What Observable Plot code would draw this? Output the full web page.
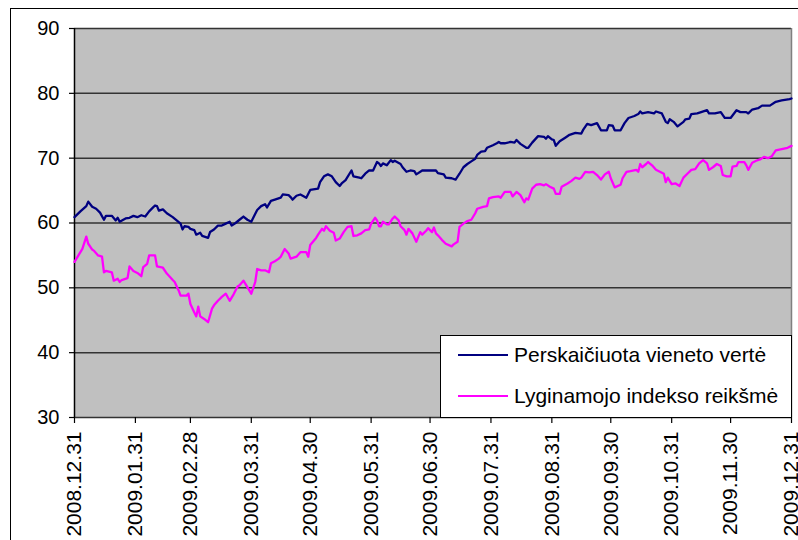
<!DOCTYPE html>
<html>
<head>
<meta charset="utf-8">
<script src="https://cdn.jsdelivr.net/npm/d3@7"></script>
<script src="https://cdn.jsdelivr.net/npm/@observablehq/plot@0.6"></script>
<style>
  html, body { margin: 0; padding: 0; background: #fff; overflow: hidden; }
  #wrap { position: relative; width: 798px; height: 540px; overflow: hidden; font-family: Arial, "Liberation Sans", sans-serif; }
  #frame { position: absolute; left: 10px; top: 8px; width: 900px; height: 700px; border: 1px solid #000; box-sizing: border-box; pointer-events: none; }
  #legend { position: absolute; left: 440px; top: 335px; width: 352px; height: 83px; background: #fff; border: 1px solid #000; box-sizing: border-box; }
  .item { position: absolute; left: 17px; display: flex; align-items: center; font-size: 21px; color: #000; white-space: nowrap; }
  .swatch { width: 50px; height: 0; border-top: 2px solid; margin-right: 6px; }
</style>
</head>
<body>
<div id="wrap">
  <div id="chart"></div>
  <div id="frame"></div>
  <div id="legend"></div>
</div>
<script>
// Series names
const seriesNames = ["Perskaičiuota vieneto vertė", "Lyginamojo indekso reikšmė"];
const seriesColors = ["#000080", "#FF00FF"];

// Axis ticks
const yTicks = [30, 40, 50, 60, 70, 80, 90];
const xTickDates = ["2008-12-31","2009-01-31","2009-02-28","2009-03-31","2009-04-30","2009-05-31","2009-06-30","2009-07-31","2009-08-31","2009-09-30","2009-10-31","2009-11-30","2009-12-31"];

// Perskaičiuota vieneto vertė
const navDates = ["2008-12-31","2009-01-03","2009-01-06","2009-01-07","2009-01-09","2009-01-11","2009-01-13","2009-01-15","2009-01-16","2009-01-19","2009-01-21","2009-01-22","2009-01-23","2009-01-26","2009-01-28","2009-01-30","2009-02-01","2009-02-03","2009-02-05","2009-02-07","2009-02-09","2009-02-10","2009-02-11","2009-02-12","2009-02-14","2009-02-16","2009-02-19","2009-02-21","2009-02-23","2009-02-24","2009-02-25","2009-02-27","2009-02-28","2009-03-02","2009-03-03","2009-03-05","2009-03-06","2009-03-09","2009-03-10","2009-03-12","2009-03-14","2009-03-16","2009-03-18","2009-03-20","2009-03-21","2009-03-23","2009-03-25","2009-03-27","2009-03-29","2009-03-31","2009-04-01","2009-04-03","2009-04-05","2009-04-07","2009-04-08","2009-04-10","2009-04-12","2009-04-15","2009-04-16","2009-04-19","2009-04-20","2009-04-21","2009-04-23","2009-04-25","2009-04-28","2009-04-30","2009-05-04","2009-05-05","2009-05-07","2009-05-09","2009-05-11","2009-05-13","2009-05-15","2009-05-16","2009-05-18","2009-05-21","2009-05-22","2009-05-25","2009-05-26","2009-05-28","2009-05-30","2009-06-01","2009-06-03","2009-06-04","2009-06-05","2009-06-06","2009-06-08","2009-06-10","2009-06-11","2009-06-12","2009-06-15","2009-06-16","2009-06-18","2009-06-20","2009-06-22","2009-06-23","2009-06-26","2009-06-29","2009-07-03","2009-07-04","2009-07-07","2009-07-08","2009-07-11","2009-07-13","2009-07-15","2009-07-17","2009-07-19","2009-07-21","2009-07-23","2009-07-24","2009-07-26","2009-07-28","2009-07-29","2009-08-01","2009-08-03","2009-08-04","2009-08-05","2009-08-07","2009-08-10","2009-08-12","2009-08-13","2009-08-15","2009-08-18","2009-08-19","2009-08-21","2009-08-24","2009-08-27","2009-08-28","2009-08-29","2009-08-31","2009-09-01","2009-09-02","2009-09-04","2009-09-07","2009-09-09","2009-09-12","2009-09-15","2009-09-16","2009-09-18","2009-09-20","2009-09-23","2009-09-25","2009-09-28","2009-09-29","2009-10-01","2009-10-02","2009-10-05","2009-10-07","2009-10-09","2009-10-12","2009-10-14","2009-10-15","2009-10-16","2009-10-19","2009-10-22","2009-10-23","2009-10-26","2009-10-28","2009-10-29","2009-10-30","2009-11-01","2009-11-03","2009-11-06","2009-11-07","2009-11-09","2009-11-10","2009-11-13","2009-11-15","2009-11-18","2009-11-19","2009-11-22","2009-11-25","2009-11-27","2009-11-30","2009-12-03","2009-12-05","2009-12-08","2009-12-09","2009-12-11","2009-12-14","2009-12-16","2009-12-20","2009-12-23","2009-12-26","2009-12-30","2009-12-31"];
const navValues = [60.9,61.8,62.6,63.3,62.5,62.2,61.6,60.5,61.1,61.1,60.4,60.8,60.2,60.7,60.8,61.1,60.9,61.2,61.0,61.8,62.4,62.7,62.6,61.9,62.1,61.5,60.9,60.4,59.9,59.0,59.5,59.4,59.1,58.9,58.2,58.5,58.0,57.7,58.6,59.0,59.6,59.6,59.9,60.2,59.6,60.0,60.5,61.0,60.5,60.2,60.8,62.0,62.6,62.9,62.4,63.4,63.6,63.9,64.4,64.3,64.0,63.6,64.2,64.4,63.9,65.1,65.3,66.3,67.2,67.5,67.2,66.3,65.7,66.1,66.6,68.1,67.2,67.0,66.9,67.6,68.1,68.1,69.4,69.2,68.8,69.2,68.9,69.7,69.4,69.6,69.1,68.6,67.9,68.1,68.0,67.5,68.1,68.1,68.1,67.7,67.5,67.0,66.9,66.7,67.6,68.6,69.1,69.5,69.9,70.5,71.0,71.1,71.6,72.0,72.3,72.5,72.3,72.3,72.5,72.4,72.8,72.2,71.6,71.6,72.4,73.4,73.3,73.0,73.4,72.9,72.8,71.9,72.6,73.2,73.6,73.9,73.8,74.4,75.3,75.1,75.4,74.3,74.3,75.1,75.0,74.3,74.3,75.4,76.2,76.5,76.8,77.2,76.9,77.1,76.9,77.2,76.9,75.6,75.4,76.0,75.6,74.9,75.6,76.0,76.1,76.8,76.9,77.1,77.4,76.9,76.9,77.1,76.2,76.2,77.4,77.1,77.1,76.9,77.5,77.7,78.1,78.1,78.7,78.9,79.1,79.2];

// Lyginamojo indekso reikšmė
const idxDates = ["2008-12-31","2009-01-02","2009-01-04","2009-01-06","2009-01-07","2009-01-09","2009-01-10","2009-01-12","2009-01-14","2009-01-15","2009-01-16","2009-01-19","2009-01-20","2009-01-22","2009-01-23","2009-01-24","2009-01-27","2009-01-28","2009-01-30","2009-02-01","2009-02-03","2009-02-04","2009-02-06","2009-02-07","2009-02-10","2009-02-11","2009-02-14","2009-02-16","2009-02-19","2009-02-20","2009-02-22","2009-02-23","2009-02-26","2009-02-27","2009-02-28","2009-03-02","2009-03-03","2009-03-04","2009-03-05","2009-03-07","2009-03-09","2009-03-11","2009-03-12","2009-03-14","2009-03-16","2009-03-18","2009-03-20","2009-03-22","2009-03-24","2009-03-25","2009-03-27","2009-03-29","2009-03-31","2009-04-02","2009-04-03","2009-04-05","2009-04-07","2009-04-09","2009-04-10","2009-04-12","2009-04-14","2009-04-15","2009-04-17","2009-04-19","2009-04-20","2009-04-23","2009-04-25","2009-04-28","2009-04-29","2009-04-30","2009-05-03","2009-05-04","2009-05-06","2009-05-07","2009-05-08","2009-05-10","2009-05-12","2009-05-13","2009-05-15","2009-05-17","2009-05-19","2009-05-21","2009-05-22","2009-05-24","2009-05-26","2009-05-28","2009-05-30","2009-05-31","2009-06-02","2009-06-03","2009-06-04","2009-06-05","2009-06-06","2009-06-08","2009-06-09","2009-06-11","2009-06-12","2009-06-14","2009-06-15","2009-06-17","2009-06-18","2009-06-19","2009-06-21","2009-06-23","2009-06-25","2009-06-26","2009-06-28","2009-06-29","2009-07-01","2009-07-02","2009-07-03","2009-07-04","2009-07-06","2009-07-08","2009-07-11","2009-07-12","2009-07-14","2009-07-15","2009-07-17","2009-07-19","2009-07-21","2009-07-22","2009-07-23","2009-07-24","2009-07-27","2009-07-29","2009-07-30","2009-08-01","2009-08-04","2009-08-05","2009-08-07","2009-08-10","2009-08-11","2009-08-13","2009-08-15","2009-08-17","2009-08-18","2009-08-19","2009-08-21","2009-08-23","2009-08-25","2009-08-27","2009-08-28","2009-08-30","2009-09-01","2009-09-02","2009-09-04","2009-09-05","2009-09-08","2009-09-10","2009-09-12","2009-09-14","2009-09-15","2009-09-17","2009-09-19","2009-09-21","2009-09-23","2009-09-25","2009-09-27","2009-09-29","2009-09-30","2009-10-02","2009-10-05","2009-10-06","2009-10-08","2009-10-10","2009-10-13","2009-10-14","2009-10-15","2009-10-16","2009-10-18","2009-10-19","2009-10-21","2009-10-23","2009-10-25","2009-10-27","2009-10-28","2009-10-29","2009-10-31","2009-11-02","2009-11-04","2009-11-06","2009-11-08","2009-11-10","2009-11-12","2009-11-14","2009-11-16","2009-11-18","2009-11-19","2009-11-21","2009-11-23","2009-11-25","2009-11-26","2009-11-28","2009-11-30","2009-12-01","2009-12-03","2009-12-04","2009-12-07","2009-12-08","2009-12-09","2009-12-11","2009-12-13","2009-12-15","2009-12-17","2009-12-19","2009-12-21","2009-12-23","2009-12-26","2009-12-29","2009-12-31"];
const idxValues = [54.0,55.0,56.0,57.9,56.8,55.9,55.7,55.0,54.8,52.4,52.6,52.4,51.1,51.4,50.9,51.2,51.5,53.3,52.6,52.3,51.8,53.2,53.7,55.0,55.0,53.3,53.1,52.2,51.2,50.9,49.6,48.8,48.8,49.1,47.5,46.2,45.6,47.1,45.6,45.2,44.7,46.8,47.3,48.0,48.6,49.1,48.0,49.0,50.2,50.4,51.1,50.1,49.1,50.9,52.9,52.7,52.7,52.4,53.8,54.1,54.5,54.8,56.0,55.3,54.5,54.8,55.5,55.5,54.8,56.6,57.7,58.2,59.1,58.8,59.5,58.8,58.5,57.3,57.6,58.6,59.4,59.5,58.0,58.1,58.4,58.9,59.0,59.9,60.8,60.4,59.5,59.5,60.2,59.8,59.8,60.7,61.0,60.4,59.5,58.9,58.2,59.1,58.4,57.1,58.6,58.2,58.8,59.2,58.6,59.3,58.4,58.1,57.4,56.8,56.4,56.7,57.1,59.4,59.9,60.3,60.5,61.0,61.5,62.2,62.5,62.6,63.8,64.0,64.1,63.9,64.8,64.8,64.1,64.8,64.3,63.2,63.8,63.6,65.3,65.9,66.0,65.8,66.0,65.6,65.3,64.5,64.5,65.6,66.1,66.5,67.0,66.8,67.0,67.9,67.8,67.9,67.4,66.7,67.5,67.9,66.9,65.5,65.9,66.9,67.9,68.0,68.2,67.9,69.1,68.6,69.1,69.4,68.9,68.2,67.9,67.6,66.3,67.0,66.0,66.1,65.7,67.0,67.6,68.2,68.3,69.2,69.7,69.2,68.2,68.6,69.1,68.8,67.4,67.2,67.2,68.7,68.8,69.4,69.4,68.9,68.2,69.3,69.6,69.8,70.2,70.0,70.3,71.2,71.4,71.6,71.9];

const nav = navDates.map((d, i) => ({date: new Date(d), value: navValues[i]}));
const idx = idxDates.map((d, i) => ({date: new Date(d), value: idxValues[i]}));
const xTicks = xTickDates.map(d => new Date(d));
const xStart = xTicks[0], xEnd = xTicks[xTicks.length - 1];
const fmt = d3.utcFormat("%Y.%m.%d");

const chart = Plot.plot({
  width: 798,
  height: 540,
  marginLeft: 74,
  marginRight: 7,
  marginTop: 28,
  marginBottom: 123,
  style: {fontFamily: "Arial, 'Liberation Sans', sans-serif", fontSize: "20px", background: "transparent", color: "#000"},
  x: {type: "utc", domain: [xStart, xEnd]},
  y: {domain: [30, 90]},
  marks: [
    Plot.frame({fill: "#C0C0C0", stroke: null}),
    Plot.ruleY(yTicks, {stroke: "#333", strokeWidth: 1.5}),
    Plot.ruleX([xEnd], {stroke: "#808080", strokeWidth: 1.5}),
    Plot.ruleX([xStart], {stroke: "#000", strokeWidth: 1.5}),
    Plot.line(nav, {x: "date", y: "value", stroke: seriesColors[0], strokeWidth: 2.3}),
    Plot.line(idx, {x: "date", y: "value", stroke: seriesColors[1], strokeWidth: 2.3}),
    Plot.axisY(yTicks, {tickSize: 5, tickPadding: 10, label: null, stroke: "#000", strokeWidth: 1.2}),
    Plot.axisX(xTicks, {tickSize: 6, tickPadding: 8, tickRotate: -90, tickFormat: fmt, label: null, fontSize: 21, stroke: "#000", strokeWidth: 1.2})
  ]
});
document.getElementById("chart").appendChild(chart);

// Legend
const legend = document.getElementById("legend");
seriesNames.forEach((name, i) => {
  const item = document.createElement("div");
  item.className = "item";
  item.style.top = (i === 0 ? 7 : 48) + "px";
  const sw = document.createElement("div");
  sw.className = "swatch";
  sw.style.borderTopColor = seriesColors[i];
  const label = document.createElement("span");
  label.textContent = name;
  item.appendChild(sw);
  item.appendChild(label);
  legend.appendChild(item);
});
</script>
</body>
</html>
